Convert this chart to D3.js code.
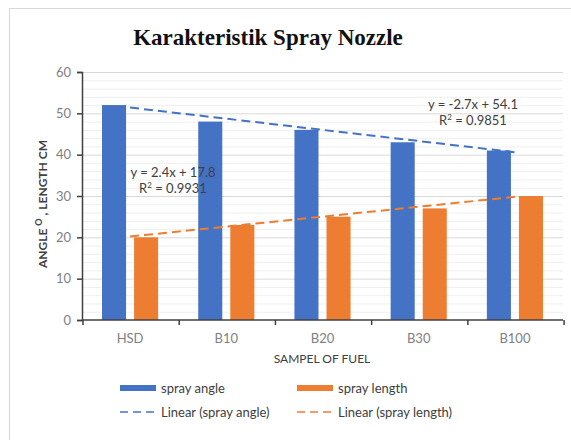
<!DOCTYPE html>
<html>
<head>
<meta charset="utf-8">
<script src="https://cdn.jsdelivr.net/npm/d3@7"></script>
<style>
  body { margin: 0; background: #fff; }
  text { font-family: Lato, "Open Sans", sans-serif; }
</style>
</head>
<body>
<svg id="chart" width="571" height="440"></svg>
<script>
// Data
const categories = ['HSD', 'B10', 'B20', 'B30', 'B100']
const sprayAngle = [52, 48, 46, 43, 41]
const sprayLength = [20, 23, 25, 27, 30]
const seriesNames = ['spray angle', 'spray length']
const yTicks = [0, 10, 20, 30, 40, 50, 60]

const colors = ['#4472C4', '#ED7D31']

const svg = d3.select('#chart')

// Chart frame
svg.append('rect')
    .attr('x', 9.5).attr('y', 8.5)
    .attr('width', 580).attr('height', 450)
    .attr('fill', '#fff')
    .attr('stroke', '#d9d9d9')

// Title
svg.append('text')
    .attr('x', 268).attr('y', 45)
    .attr('text-anchor', 'middle')
    .style('font-family', '"Liberation Serif", "Times New Roman", serif')
    .style('font-weight', 'bold')
    .style('font-size', '23px')
    .attr('fill', '#111')
    .text('Karakteristik Spray Nozzle')

// Scales
const plotLeft = 82, plotRight = 563, plotTop = 72, plotBottom = 320

const x0 = d3.scaleBand()
    .domain(categories)
    .range([plotLeft, plotRight])
    .paddingInner(0.4167)
    .paddingOuter(0.208)

const x1 = d3.scaleBand()
    .domain(seriesNames)
    .range([0, x0.bandwidth()])
    .paddingInner(0.25)

const y = d3.scaleLinear()
    .domain([0, 60])
    .range([plotBottom, plotTop])

// Minor gridlines
svg.append('g')
    .selectAll('line')
    .data(d3.range(2, 60, 2).filter(v => v % 10 != 0))
    .enter()
    .append('line')
    .attr('x1', plotLeft).attr('x2', plotRight)
    .attr('y1', d => y(d) + 0.5).attr('y2', d => y(d) + 0.5)
    .attr('stroke', '#efefef')

// Major gridlines
svg.append('g')
    .selectAll('line')
    .data(yTicks.slice(1))
    .enter()
    .append('line')
    .attr('x1', plotLeft).attr('x2', plotRight)
    .attr('y1', d => y(d) + 0.5).attr('y2', d => y(d) + 0.5)
    .attr('stroke', '#d9d9d9')

// Bars
const allSeries = [sprayAngle, sprayLength]
seriesNames.forEach(function(name, si){
    svg.append('g')
        .selectAll('rect')
        .data(allSeries[si])
        .enter()
        .append('rect')
        .attr('x', (_, i) => x0(categories[i]) + x1(name))
        .attr('y', d => y(d))
        .attr('width', x1.bandwidth())
        .attr('height', d => y(0) - y(d))
        .attr('fill', colors[si])
})

// Linear trend lines (least squares on x = 1..n)
function linearFit(values){
    const xs = values.map((_, i) => i + 1)
    const mx = d3.mean(xs), my = d3.mean(values)
    const slope = d3.sum(xs, (xv, i) => (xv - mx) * (values[i] - my)) / d3.sum(xs, xv => (xv - mx) ** 2)
    const intercept = my - slope * mx
    return {slope, intercept}
}

allSeries.forEach(function(values, si){
    const fit = linearFit(values)
    const first = 1, last = values.length
    svg.append('line')
        .attr('x1', x0(categories[0]) + x0.bandwidth() / 2)
        .attr('x2', x0(categories[last - 1]) + x0.bandwidth() / 2)
        .attr('y1', y(fit.intercept + fit.slope * first))
        .attr('y2', y(fit.intercept + fit.slope * last))
        .attr('stroke', colors[si])
        .attr('stroke-width', 2)
        .attr('stroke-dasharray', '9,5')
})

// Axes
const yAxis = d3.axisLeft(y).tickValues(yTicks).tickSize(5).tickPadding(6)
const yAxisG = svg.append('g')
    .attr('transform', 'translate(' + plotLeft + ',0)')
    .call(yAxis)
yAxisG.select('.domain').attr('stroke', '#404040').attr('stroke-width', 1.5)
yAxisG.selectAll('.tick line').attr('stroke', '#404040').attr('stroke-width', 1.5)
yAxisG.selectAll('.tick text')
    .style('font-size', '13px')
    .attr('fill', '#7f7f7f')

// x axis line with boundary ticks
svg.append('line')
    .attr('x1', plotLeft).attr('x2', plotRight)
    .attr('y1', plotBottom).attr('y2', plotBottom)
    .attr('stroke', '#404040').attr('stroke-width', 1.5)

svg.append('g')
    .selectAll('line')
    .data(categories.concat(['end']))
    .enter()
    .append('line')
    .attr('x1', (_, i) => plotLeft + x0.step() * i + 1)
    .attr('x2', (_, i) => plotLeft + x0.step() * i + 1)
    .attr('y1', plotBottom).attr('y2', plotBottom + 5)
    .attr('stroke', '#404040').attr('stroke-width', 1.5)

svg.append('g')
    .selectAll('text')
    .data(categories)
    .enter()
    .append('text')
    .attr('x', d => x0(d) + x0.bandwidth() / 2)
    .attr('y', 343)
    .attr('text-anchor', 'middle')
    .style('font-size', '13px')
    .attr('fill', '#7f7f7f')
    .text(d => d)

// Axis titles
svg.append('text')
    .attr('x', 322).attr('y', 363)
    .attr('text-anchor', 'middle')
    .style('font-size', '12px')
    .attr('fill', '#404040')
    .text('SAMPEL OF FUEL')

const yTitle = svg.append('text')
    .attr('transform', 'translate(47,204) rotate(-90)')
    .attr('text-anchor', 'middle')
    .style('font-size', '12px')
    .style('font-weight', 'bold')
    .attr('fill', '#404040')
yTitle.append('tspan').text('ANGLE  ')
yTitle.append('tspan').attr('dy', -5).style('font-size', '9px').text('O')
yTitle.append('tspan').attr('dy', 5).text(' , LENGTH CM')

// Trend equations
const eqAngle = linearFit(sprayAngle)
const eqLength = linearFit(sprayLength)
function eqText(fit){
    return 'y = ' + fit.slope.toFixed(1) + 'x + ' + fit.intercept.toFixed(1)
}
const r2Angle = '0.9851'
const r2Length = '0.9931'

function drawEquation(cx, cy, fit, r2){
    svg.append('text')
        .attr('x', cx).attr('y', cy)
        .attr('text-anchor', 'middle')
        .style('font-size', '13px')
        .attr('fill', '#404040')
        .text(eqText(fit))
    const t = svg.append('text')
        .attr('x', cx).attr('y', cy + 16)
        .attr('text-anchor', 'middle')
        .style('font-size', '13px')
        .attr('fill', '#404040')
    t.append('tspan').text('R')
    t.append('tspan').attr('dy', -5).style('font-size', '8px').text('2')
    t.append('tspan').attr('dy', 5).text(' = ' + r2)
}
drawEquation(173, 177, eqLength, r2Length)
drawEquation(473, 109, eqAngle, r2Angle)

// Legend
const legendItems = [
    {label: 'spray angle', color: colors[0], type: 'bar', x: 120, y: 388},
    {label: 'spray length', color: colors[1], type: 'bar', x: 297, y: 388},
    {label: 'Linear (spray angle)', color: colors[0], type: 'line', x: 120, y: 412},
    {label: 'Linear (spray length)', color: colors[1], type: 'line', x: 297, y: 412}
]

const legend = svg.append('g')
    .selectAll('g')
    .data(legendItems)
    .enter()
    .append('g')
    .attr('transform', d => 'translate(' + d.x + ',' + d.y + ')')

legend.filter(d => d.type == 'bar')
    .append('rect')
    .attr('x', 0).attr('y', -3)
    .attr('width', 36).attr('height', 6)
    .attr('fill', d => d.color)

legend.filter(d => d.type == 'line')
    .append('line')
    .attr('x1', 0).attr('x2', 36)
    .attr('stroke', d => d.color)
    .attr('stroke-width', 1.5)
    .attr('stroke-dasharray', '8,5')

legend.append('text')
    .attr('x', 41).attr('y', 5)
    .style('font-size', '13px')
    .attr('fill', '#404040')
    .text(d => d.label)
</script>
</body>
</html>
